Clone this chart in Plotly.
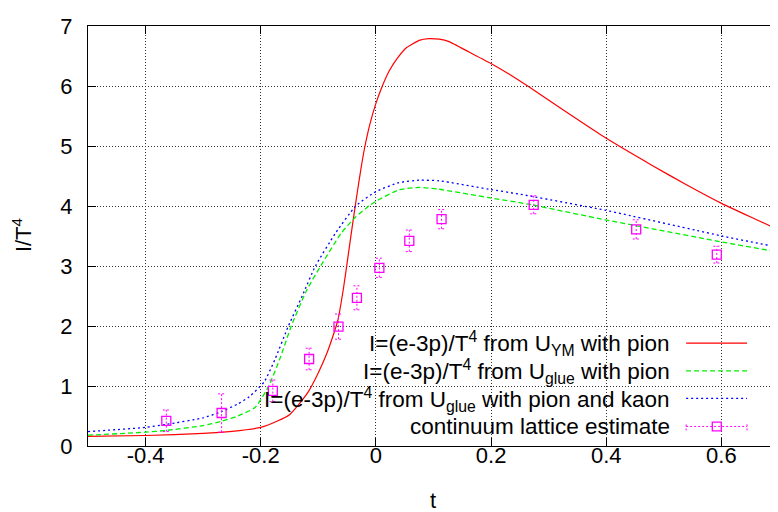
import plotly.graph_objects as go

# ---- data ----
t_red = [-0.5, -0.4, -0.3, -0.25, -0.2, -0.17, -0.15, -0.135, -0.117, -0.1, -0.085, -0.074,
         -0.066, -0.056, -0.048, -0.040, -0.032, -0.026, -0.020, -0.010, 0.0, 0.012, 0.023,
         0.037, 0.052, 0.075, 0.092, 0.11, 0.127, 0.161, 0.199, 0.231, 0.265, 0.33, 0.398,
         0.479, 0.54, 0.601, 0.65, 0.7]
I_red = [0.16, 0.175, 0.21, 0.245, 0.31, 0.42, 0.52, 0.68, 0.91, 1.22, 1.55, 1.85,
         2.10, 2.65, 3.19, 3.73, 4.25, 4.62, 4.95, 5.38, 5.71, 6.02, 6.25,
         6.46, 6.63, 6.76, 6.79, 6.78, 6.74, 6.57, 6.38, 6.20, 5.99, 5.57, 5.14,
         4.68, 4.35, 4.04, 3.82, 3.60]

t_green = [-0.5, -0.4, -0.364, -0.3, -0.269, -0.24, -0.21, -0.186, -0.165, -0.147, -0.12,
           -0.096, -0.06, -0.035, -0.012, 0.0, 0.04, 0.075, 0.109, 0.196, 0.265, 0.398, 0.601, 0.7]
I_green = [0.18, 0.23, 0.26, 0.34, 0.41, 0.50, 0.64, 1.00, 1.50, 2.00, 2.60,
           3.00, 3.55, 3.82, 4.00, 4.08, 4.27, 4.31, 4.28, 4.14, 4.03, 3.77, 3.40, 3.23]

t_blue = [-0.5, -0.4, -0.364, -0.3, -0.269, -0.24, -0.22, -0.194, -0.175, -0.152, -0.128,
          -0.105, -0.07, -0.035, 0.0, 0.04, 0.075, 0.11, 0.196, 0.248, 0.398, 0.601, 0.7]
I_blue = [0.24, 0.31, 0.36, 0.47, 0.57, 0.70, 0.82, 1.07, 1.45, 2.00, 2.50,
          3.00, 3.55, 4.00, 4.24, 4.39, 4.43, 4.42, 4.28, 4.20, 3.93, 3.50, 3.31]

lat_t = [-0.364, -0.268, -0.179, -0.116, -0.065, -0.033, 0.006, 0.058, 0.114, 0.274, 0.452, 0.592]
lat_I = [0.42, 0.55, 0.92, 1.45, 1.99, 2.47, 2.97, 3.42, 3.78, 4.02, 3.61, 3.19]
lat_err = [0.18, 0.32, 0.18, 0.18, 0.21, 0.20, 0.16, 0.18, 0.16, 0.15, 0.16, 0.14]

x_tickvals = [-0.4, -0.2, 0, 0.2, 0.4, 0.6]
x_ticktext = ["-0.4", "-0.2", "0", "0.2", "0.4", "0.6"]
y_tickvals = [0, 1, 2, 3, 4, 5, 6, 7]
y_ticktext = ["0", "1", "2", "3", "4", "5", "6", "7"]

legend_labels = [
    "I=(e-3p)/T<sup>4</sup> from U<sub>YM</sub> with pion",
    "I=(e-3p)/T<sup>4</sup> from U<sub>glue</sub> with pion",
    "I=(e-3p)/T<sup>4</sup> from U<sub>glue</sub> with pion and kaon",
    "continuum lattice estimate",
]

RED, GREEN, BLUE, MAG = "#ff0000", "#00ee00", "#0000ff", "#ff00ff"
FONT = "Liberation Sans, Arial, Helvetica, sans-serif"
FS = 22
FS_KEY = 22.5

fig = go.Figure()
fig.add_trace(go.Scatter(x=t_red, y=I_red, mode="lines",
                         line=dict(color=RED, width=1.2, shape="spline", smoothing=0.4)))
fig.add_trace(go.Scatter(x=t_green, y=I_green, mode="lines",
                         line=dict(color=GREEN, width=1.3, dash="5px,3px", shape="spline", smoothing=0.5)))
fig.add_trace(go.Scatter(x=t_blue, y=I_blue, mode="lines",
                         line=dict(color=BLUE, width=1.3, dash="2px,3px", shape="spline", smoothing=0.5)))

# dotted error bars with caps
cap = 0.006
ex, ey = [], []
for t, v, e in zip(lat_t, lat_I, lat_err):
    ex += [t, t, None, t - cap, t + cap, None, t - cap, t + cap, None]
    ey += [v - e, v + e, None, v + e, v + e, None, v - e, v - e, None]
fig.add_trace(go.Scatter(x=ex, y=ey, mode="lines",
                         line=dict(color=MAG, width=1, dash="2px,2px")))
fig.add_trace(go.Scatter(x=lat_t, y=lat_I, mode="markers",
                         marker=dict(symbol="square-open", size=9, color=MAG,
                                     line=dict(width=1.3, color=MAG))))

OFF = 8  # page body margin
W, H = 778, 512
L, T, R, B = 80, 8, 6, 74
pw, ph = W - L - R, H - T - B

def px2paper_x(px):  # screen pixel -> paper
    return (px - OFF - L) / pw

def py2paper_y(py):
    return (H - B - (py - OFF)) / ph

shapes = []
# white key area hides the grid (drawn between grid and traces)
shapes.append(dict(type="rect", xref="paper", yref="paper", layer="between",
                   x0=px2paper_x(134), x1=1, y0=0, y1=py2paper_y(327),
                   fillcolor="white", line=dict(width=0)))

annotations = []
row_y = [341, 369.5, 398, 426]
sample_y = [340.7, 369, 397.3, 426]
styles = [dict(color=RED, width=1.2), dict(color=GREEN, width=1.3, dash="5px,3px"),
          dict(color=BLUE, width=1.3, dash="2px,3px"), dict(color=MAG, width=1, dash="2px,2px")]
x0s, x1s = px2paper_x(687), px2paper_x(748)
for lab, ry, sy, st in zip(legend_labels, row_y, sample_y, styles):
    annotations.append(dict(text=lab, xref="paper", yref="paper", x=px2paper_x(673),
                            y=py2paper_y(ry), xanchor="right", yanchor="middle",
                            showarrow=False, font=dict(family=FONT, size=FS_KEY, color="black")))
    shapes.append(dict(type="line", xref="paper", yref="paper", x0=x0s, x1=x1s,
                       y0=py2paper_y(sy), y1=py2paper_y(sy), line=st))
# error-bar sample caps and square
sy = py2paper_y(sample_y[3])
for xx in (x0s, x1s):
    shapes.append(dict(type="line", xref="paper", yref="paper", x0=xx, x1=xx,
                       y0=sy - 4 / ph, y1=sy + 4 / ph, line=dict(color=MAG, width=1, dash="2px,2px")))
sqx = px2paper_x(717.7)
shapes.append(dict(type="rect", xref="paper", yref="paper", x0=sqx - 4.5 / pw, x1=sqx + 4.5 / pw,
                   y0=sy - 4.5 / ph, y1=sy + 4.5 / ph, line=dict(color=MAG, width=1.3)))

# axis titles
annotations.append(dict(text="I/T<sup>4</sup>", xref="paper", yref="paper",
                        x=px2paper_x(22), y=py2paper_y(230), xanchor="center", yanchor="middle",
                        textangle=-90, showarrow=False, font=dict(family=FONT, size=FS, color="black")))
annotations.append(dict(text="t", xref="paper", yref="paper",
                        x=px2paper_x(433), y=py2paper_y(502), xanchor="center", yanchor="middle",
                        showarrow=False, font=dict(family=FONT, size=FS, color="black")))

axis_common = dict(showline=True, linecolor="black", linewidth=1, mirror="ticks",
                   ticks="inside", ticklen=8, tickcolor="black", tickwidth=1,
                   showgrid=True, gridcolor="#333333", gridwidth=1, griddash="1px,2px",
                   zeroline=False, ticklabeloverflow="allow",
                   tickfont=dict(family=FONT, size=FS, color="black"))

fig.update_layout(
    width=W, height=H, margin=dict(l=L, r=R, t=T, b=B),
    paper_bgcolor="white", plot_bgcolor="white", showlegend=False,
    xaxis=dict(range=[-0.5, 0.7], tickvals=x_tickvals, ticktext=x_ticktext,
               ticklabelstandoff=-10, **axis_common),
    yaxis=dict(range=[0, 7], tickvals=y_tickvals, ticktext=y_ticktext,
               ticklabelstandoff=10, **axis_common),
    shapes=shapes, annotations=annotations,
)

fig.write_html("out.html")
